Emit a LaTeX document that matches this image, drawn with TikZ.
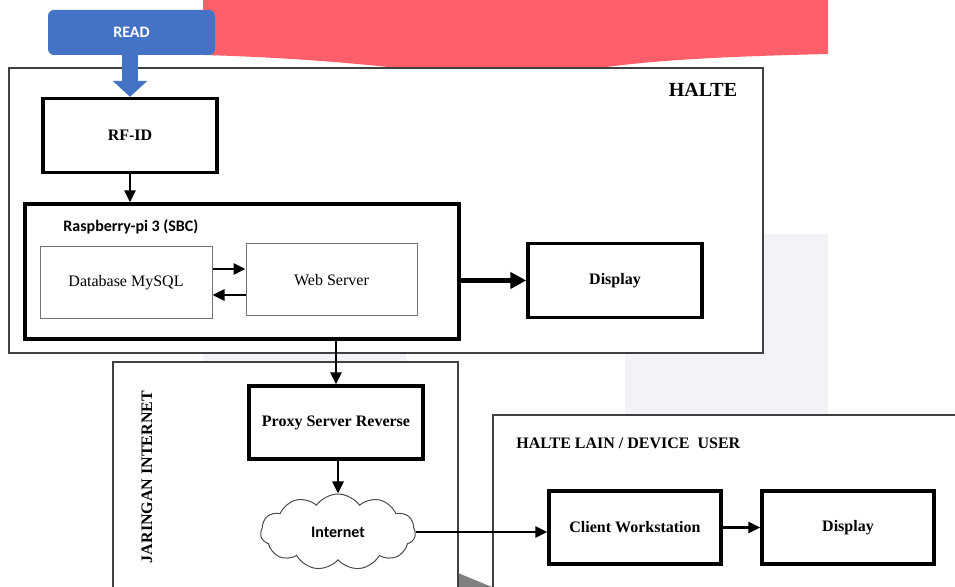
\documentclass[tikz,border=0pt]{standalone}
\usepackage{fontspec}
\setmainfont{Liberation Serif}
\newfontfamily\calibri{Carlito}
\usetikzlibrary{
    arrows.meta,
    shapes.symbols,
    calc,
}
\definecolor{readBlue}{HTML}{4472C4}
\definecolor{bgRed}{HTML}{FF5F6B}
\definecolor{bgGrey}{HTML}{F2F2F7}

\begin{document}
\begin{tikzpicture}[x=0.5pt,y=-0.5pt,>={Triangle[length=6pt,width=5.5pt]}]

    \tikzstyle{commonNode}=[font=\fontsize{8}{9.6}\selectfont\bfseries, align=center, inner sep=0pt]
    \tikzstyle{unit}=[commonNode, rectangle, draw=black, line width=1.7pt, fill=white, minimum width=87pt, minimum height=37pt]
    \tikzstyle{subUnit}=[commonNode, font=\fontsize{8}{9.6}\selectfont, draw=black!55, line width=0.5pt, fill=white, minimum width=86pt, minimum height=36pt]
    \tikzstyle{zone}=[draw=black!75, line width=0.7pt, fill=white]
    \tikzstyle{sansLabel}=[commonNode, font=\calibri\bfseries\fontsize{8}{9.6}\selectfont]
    \tikzstyle{post}=[->, line width=1.4pt]
    \tikzstyle{fatPost}=[-{Triangle[length=8pt,width=8pt]}, line width=2.1pt]

    \clip (0,0) rectangle (955,587);
    \fill[white] (0,0) rectangle (955,587);

    % Background
    \fill[bgRed] (203,0) -- (828,0) -- (828,54) .. controls (700,57) and (620,62) .. (560,75)
        -- (450,75) .. controls (380,64) and (280,57) .. (203,55) -- cycle;
    \fill[bgGrey] (625,234) rectangle (828,415);
    \fill[bgGrey] (203,340) rectangle (406,362);
    \fill[black!50] (458,573) -- (492,587) -- (458,587) -- cycle;

    % Zones
    \draw[zone] (9,68) rectangle (763,353);
    \draw[zone] (113,362) rectangle (458,620);
    \draw[zone] (493,415) rectangle (980,620);
    \node[commonNode, font=\fontsize{10}{12}\selectfont\bfseries] (HalteLabel) at (703,90) {HALTE};
    \node[commonNode, rotate=90] (NetLabel) at (147,477) {JARINGAN INTERNET};
    \node[commonNode, anchor=west] (OtherLabel) at (516,443) {HALTE LAIN / DEVICE\ \ USER};

    % Halte
    \node[sansLabel, fill=readBlue, text=white, rounded corners=3pt, minimum width=83.5pt, minimum height=22.5pt] (Read) at (131.5,32.5) {READ};
    \node[unit] (RFID) at (130,135.5) {RF-ID};
    \node[unit, minimum width=217pt, minimum height=67.5pt] (Rasp) at (242,271.5) {};
    \node[sansLabel, anchor=west] (RaspLabel) at (63,227) {Raspberry-pi 3 (SBC)};
    \node[subUnit] (DB) at (126,283) {Database MySQL};
    \node[subUnit, minimum width=85.5pt] (WS) at (331.5,280) {Web Server};
    \node[unit] (Disp) at (615,280.5) {Display};

    % Jaringan internet
    \node[unit, minimum height=36.5pt] (Proxy) at (336,422.5) {Proxy Server Reverse};
    \node[sansLabel, cloud, draw=black!70, line width=0.5pt, fill=white, cloud puffs=11, cloud puff arc=110,
        aspect=2, minimum width=77.5pt, minimum height=38pt] (Cloud) at (338,532) {Internet};

    % Halte lain
    \node[unit, minimum width=86pt, minimum height=36.5pt] (Client) at (635,527.5) {Client Workstation};
    \node[unit, minimum width=86pt, minimum height=36.5pt] (Disp2) at (848,527.5) {Display};

    % Connectors
    \draw[readBlue, line width=8pt, -{Triangle[length=8pt,width=17pt]}] (RFID.north |- Read.south) -- (RFID.north);
    \draw[post] (RFID.south) -- (RFID.south |- Rasp.north);
    \draw[post] ([yshift=7pt]DB.east) -- ([yshift=7pt]DB.east -| WS.west);
    \draw[post] ([yshift=-7.5pt]WS.west) -- ([yshift=-7.5pt]WS.west -| DB.east);
    \draw[fatPost] (Rasp.east |- Disp.west) -- (Disp.west);
    \draw[post] (Proxy.north |- Rasp.south) -- (Proxy.north);
    \draw[post] ([xshift=1pt]Proxy.south) -- ([xshift=1pt]Proxy.south |- Cloud.north);
    \draw[post] (Cloud.east) -- (Cloud.east -| Client.west);
    \draw[post] (Client.east) -- (Disp2.west);

\end{tikzpicture}
\end{document}
